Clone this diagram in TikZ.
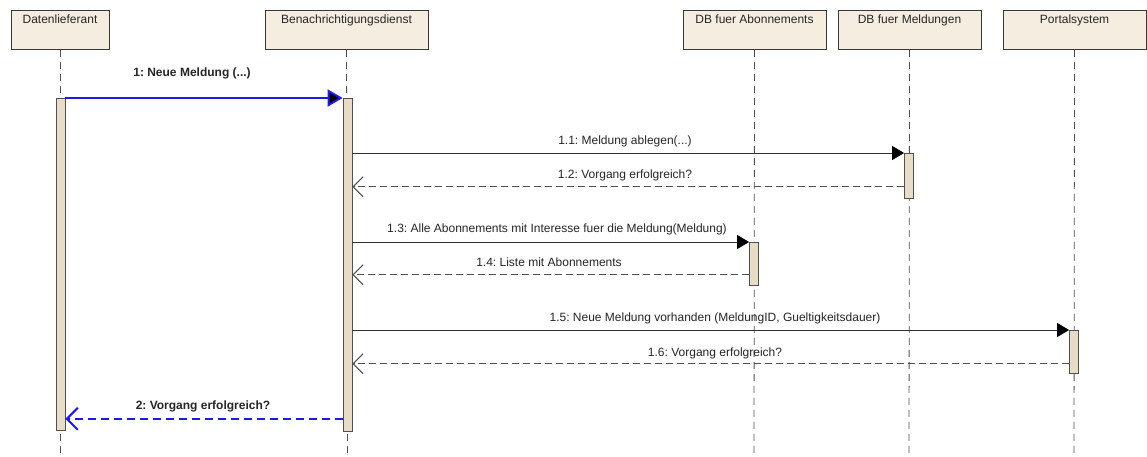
\documentclass[tikz,border=0pt]{standalone}
\usepackage{fontspec}
\setmainfont{Liberation Sans}
\usetikzlibrary{arrows.meta}
\frenchspacing
\definecolor{boxfill}{HTML}{F5EDE0}
\definecolor{barfill}{HTML}{E8DCC6}
\definecolor{linegray}{HTML}{505050}
\definecolor{msgblue}{HTML}{1A1AF0}
\tikzset{
  actor/.style={draw=linegray!70!black, line width=0.9pt, fill=boxfill, minimum height=39pt,
    inner sep=0pt, anchor=north},
  lifeline/.style={draw=linegray, line width=0.8pt, dash pattern=on 7pt off 5pt},
  actbar/.style={draw=linegray, line width=0.8pt, fill=barfill, minimum width=9pt,
    inner sep=0pt, anchor=north},
  callmsg/.style={draw=linegray!60!black, line width=1pt,
    -{Triangle[length=12pt,width=14pt,color=black]}},
  retmsg/.style={draw=linegray, line width=1pt, dash pattern=on 7pt off 4pt,
    -{Straight Barb[length=10pt,width=20pt,line width=1pt]}},
  bluecall/.style={draw=msgblue, line width=2pt,
    -{Triangle[length=15pt,width=17pt,fill=black]}},
  blueret/.style={draw=msgblue, line width=2pt, dash pattern=on 8pt off 5pt,
    -{Straight Barb[length=11pt,width=22pt,line width=2pt]}},
  msglabel/.style={anchor=base, inner sep=0pt, text=black!85, font=\fontsize{12}{14}\selectfont},
  boldlabel/.style={anchor=base, inner sep=0pt, text=black!85, font=\fontsize{12}{14}\selectfont\bfseries}
}
\begin{document}
\begin{tikzpicture}[x=1pt,y=-1pt]
  \fill[white] (0,0) rectangle (1147,456);
  \useasboundingbox (0,0) rectangle (1147,456);

  % participants
  \node[actor, minimum width=98pt]  (pA) at (60,10)   {};
  \node[actor, minimum width=163pt] (pB) at (346.5,10) {};
  \node[actor, minimum width=143pt] (pC) at (754.5,10) {};
  \node[actor, minimum width=143pt] (pD) at (909.5,10) {};
  \node[actor, minimum width=143pt] (pE) at (1074.5,10) {};
  \node[msglabel] (tA) at (60,23.5)     {Datenlieferant};
  \node[msglabel] (tB) at (346.5,23.5)  {Benachrichtigungsdienst};
  \node[msglabel] (tC) at (754.5,23.5)  {DB fuer Abonnements};
  \node[msglabel] (tD) at (909.5,23.5)  {DB fuer Meldungen};
  \node[msglabel] (tE) at (1074.5,23.5) {Portalsystem};

  % lifeline ends
  \coordinate (eA) at (60,456);
  \coordinate (eB) at (347.5,456);
  \coordinate (eC) at (754,456);
  \coordinate (eD) at (909,456);
  \coordinate (eE) at (1074,456);
  \draw[lifeline] (pA.south) -- (eA);
  \draw[lifeline] (pB.south) -- (eB);
  \draw[lifeline] (pC.south) -- (eC);
  \draw[lifeline] (pD.south) -- (eD);
  \draw[lifeline] (pE.south) -- (eE);

  % activation bars
  \node[actbar, minimum height=332pt] (bA) at (60.5,98)  {};
  \node[actbar, minimum height=333pt] (bB) at (347.5,98) {};
  \node[actbar, minimum height=45pt]  (bD) at (909,153)  {};
  \node[actbar, minimum height=43pt]  (bC) at (754,242)  {};
  \node[actbar, minimum height=43pt]  (bE) at (1074,330) {};

  % messages
  \draw[bluecall] (bA.north east) -- (bB.north west);
  \node[boldlabel] (l1) at (192,76) {1: Neue Meldung (...)};

  \draw[callmsg] (bB.east |- bD.north) -- (bD.north west);
  \node[msglabel] (l11) at (625,144) {1.1: Meldung ablegen(...)};
  \draw[retmsg] ([yshift=12pt]bD.south west) -- ([yshift=12pt]bB.east |- bD.south);
  \node[msglabel] (l12) at (625,178) {1.2: Vorgang erfolgreich?};

  \draw[callmsg] (bB.east |- bC.north) -- (bC.north west);
  \node[msglabel] (l13) at (557,232) {1.3: Alle Abonnements mit Interesse fuer die Meldung(Meldung)};
  \draw[retmsg] ([yshift=11pt]bC.south west) -- ([yshift=11pt]bB.east |- bC.south);
  \node[msglabel] (l14) at (549,266) {1.4: Liste mit Abonnements};

  \draw[callmsg] (bB.east |- bE.north) -- (bE.north west);
  \node[msglabel] (l15) at (715,321) {1.5: Neue Meldung vorhanden (MeldungID, Gueltigkeitsdauer)};
  \draw[retmsg] ([yshift=10pt]bE.south west) -- ([yshift=10pt]bB.east |- bE.south);
  \node[msglabel] (l16) at (715,356) {1.6: Vorgang erfolgreich?};

  \draw[blueret] ([yshift=13pt]bB.south west) -- ([yshift=13pt]bA.east |- bB.south);
  \node[boldlabel] (l2) at (203,409) {2: Vorgang erfolgreich?};
\end{tikzpicture}
\end{document}
